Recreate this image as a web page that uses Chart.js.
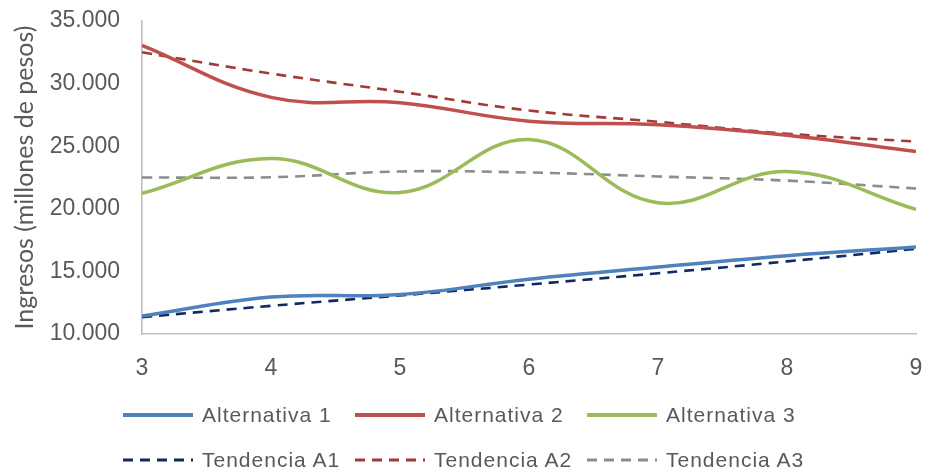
<!DOCTYPE html>
<html lang="es">
<head>
<meta charset="utf-8">
<title>Ingresos por alternativa</title>
<script src="https://cdn.jsdelivr.net/npm/chart.js@4.4.1/dist/chart.umd.min.js"></script>
<style>
  html, body { margin: 0; padding: 0; background: #ffffff; }
  #wrap { position: relative; width: 925px; height: 470px; }
  #chart { position: absolute; left: 0; top: 0; }
  #legend {
    position: absolute; left: 123px; top: 402px;
    display: grid; grid-template-columns: 232px 232px 232px;
    row-gap: 19px;
    font-family: "Liberation Sans", Arial, sans-serif; font-size: 21px; color: #595959;
    letter-spacing: 1px;
  }
  .item { display: flex; align-items: center; height: 26px; white-space: nowrap; }
  .item svg { margin-right: 9px; flex: none; }
</style>
</head>
<body>
<div id="wrap">
  <canvas id="chart" width="925" height="470"></canvas>
  <div id="legend"></div>
</div>
<script>
// Horizon (years) and incomes in millions of pesos
const years = [3, 4, 5, 6, 7, 8, 9];
const alternativa1 = [11430, 12950, 13150, 14380, 15350, 16250, 16950];
const alternativa2 = [33050, 28900, 28470, 27000, 26720, 25880, 24570];
const alternativa3 = [21230, 24010, 21300, 25530, 20480, 22980, 19950];
const tendenciaA1 = [11350, 12250, 13080, 13950, 14850, 15800, 16800];
const tendenciaA2 = [32500, 30800, 29350, 27850, 26950, 26000, 25370];
const tendenciaA3 = [22500, 22520, 22980, 22900, 22580, 22250, 21620];
const yTicks = [10000, 15000, 20000, 25000, 30000, 35000];

function pts(values) {
  return years.map((x, i) => ({ x: x, y: values[i] }));
}

function miles(v) {
  return String(Math.round(v)).replace(/\B(?=(\d{3})+(?!\d))/g, '.');
}

function solid(label, values, color) {
  return { label, data: pts(values), borderColor: color, backgroundColor: color,
           borderWidth: 3.5, tension: 0.4, pointRadius: 0, fill: false };
}
function dashed(label, values, color) {
  return { label, data: pts(values), borderColor: color, backgroundColor: color,
           borderWidth: 2.6, borderDash: [10, 7], tension: 0.4, pointRadius: 0, fill: false };
}

const datasets = [
  solid('Alternativa 1', alternativa1, '#4f81bd'),
  solid('Alternativa 2', alternativa2, '#c0504d'),
  solid('Alternativa 3', alternativa3, '#9bbb59'),
  dashed('Tendencia A1', tendenciaA1, '#0f2a63'),
  dashed('Tendencia A2', tendenciaA2, '#a23b38'),
  dashed('Tendencia A3', tendenciaA3, '#8c8c8c')
];

const tickFont = { family: '"Liberation Sans", Arial, sans-serif', size: 23 };

const chart = new Chart(document.getElementById('chart'), {
  type: 'line',
  data: { datasets },
  options: {
    responsive: false,
    animation: false,
    layout: { padding: { top: 21, right: 9, bottom: 0, left: 0 } },
    plugins: { legend: { display: false }, tooltip: { enabled: false } },
    scales: {
      x: {
        type: 'linear', min: years[0], max: years[years.length - 1],
        grid: { display: false, drawTicks: false },
        border: { display: true, color: '#bfbfbf', width: 1.6 },
        ticks: { stepSize: 1, color: '#595959', font: tickFont, padding: 21 },
        afterFit: s => { s.height = 136; s.paddingLeft = 0; s.paddingRight = 0; }
      },
      y: {
        min: yTicks[0], max: yTicks[yTicks.length - 1],
        grid: { display: false, drawTicks: false },
        border: { display: true, color: '#bfbfbf', width: 1.6 },
        afterBuildTicks: s => { s.ticks = yTicks.map(v => ({ value: v })); },
        ticks: { color: '#595959', font: tickFont, padding: 22, callback: v => miles(v) },
        title: {
          display: true, text: 'Ingresos (millones de pesos)', color: '#595959',
          font: { family: 'Lato, "Open Sans", sans-serif', size: 25 },
          padding: { top: 10, bottom: 0 }
        },
        afterFit: s => { s.width = 142; s.paddingTop = 0; s.paddingBottom = 0; }
      }
    }
  }
});

// Legend laid out as a three-column grid, built from the chart's datasets
const legend = document.getElementById('legend');
chart.data.datasets.forEach(ds => {
  const item = document.createElement('div');
  item.className = 'item';
  const dash = ds.borderDash ? ds.borderDash.join(' ') : 'none';
  const w = ds.borderDash ? 3 : 4;
  item.innerHTML =
    '<svg width="70" height="10"><line x1="0" y1="5" x2="70" y2="5" stroke="' + ds.borderColor +
    '" stroke-width="' + w + '" stroke-dasharray="' + dash + '"/></svg>';
  const span = document.createElement('span');
  span.textContent = ds.label;
  item.appendChild(span);
  legend.appendChild(item);
});
</script>
</body>
</html>
